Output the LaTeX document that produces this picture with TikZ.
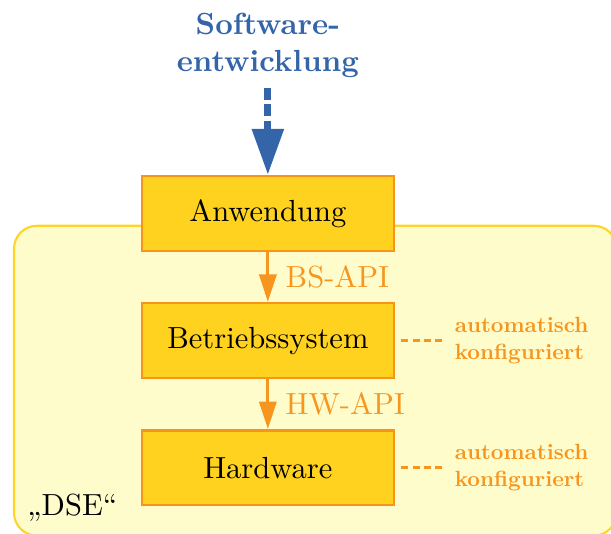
\documentclass[tikz,border=0pt]{standalone}
\usepackage{fontspec}
\usepackage{tikz}
\usetikzlibrary{arrows.meta,positioning}
\newfontfamily\notefont{lmroman10-bold.otf}

\definecolor{boxfill}{RGB}{255,210,32}
\definecolor{boxline}{RGB}{247,148,29}
\definecolor{framefill}{RGB}{255,252,204}
\definecolor{frameline}{RGB}{255,212,40}
\definecolor{devblue}{RGB}{52,101,168}
\definecolor{apiorange}{RGB}{247,150,30}

\begin{document}
\begin{tikzpicture}[x=1cm,y=1cm,every node/.style={font=\normalsize},
 layer/.style={draw=boxline,fill=boxfill,line width=0.8pt,minimum width=2.9cm,minimum height=0.86cm,inner sep=0pt},
 apiarrow/.style={draw=apiorange,line width=1pt,-{Triangle[length=9pt,width=5.6pt]}},
 note/.style={text=apiorange,font=\notefont\fontsize{7.2}{8.7}\selectfont,align=left},
 noteline/.style={draw=apiorange,line width=1pt,dash pattern=on 2.3pt off 1.4pt}]
 \useasboundingbox (0,0) rectangle (7.03,6.14);
 % DSE frame behind the layers
 \draw[fill=framefill,draw=frameline,line width=0.7pt,rounded corners=7.5pt] (0.161,-0.023) rectangle (7.096,3.542);
 \node[anchor=base west] (dse) at (0.19,0.207) {„DSE“};
 % layers
 \node[layer] (app) at (3.082,3.685) {Anwendung};
 \node[layer,below=0.575cm of app] (os) {Betriebssystem};
 \node[layer,below=0.575cm of os] (hw) {Hardware};
 \draw[apiarrow] (app) -- node[right=2pt,text=apiorange] (bsapi) {BS-API} (os);
 \draw[apiarrow] (os) -- node[right=2pt,text=apiorange] (hwapi) {HW-API} (hw);
 % software development from above
 \node[text=devblue,font=\bfseries,align=center] (dev) at (3.082,5.62) {Software-\\entwicklung};
 \coordinate (devend) at (3.082,5.13);
 \draw[devblue,line width=2.3pt,dash pattern=on 4pt off 1.4pt,-{Triangle[length=15pt,width=10pt]}] (devend) -- (app.north);
 % notes
 \node[note,right=16pt of os] (osnote) {automatisch\\konfiguriert};
 \node[note,right=16pt of hw] (hwnote) {automatisch\\konfiguriert};
 \draw[noteline] ([xshift=2pt]os.east) -- ([xshift=-0.8pt]osnote.west);
 \draw[noteline] ([xshift=2pt]hw.east) -- ([xshift=-0.8pt]hwnote.west);
\end{tikzpicture}
\end{document}
